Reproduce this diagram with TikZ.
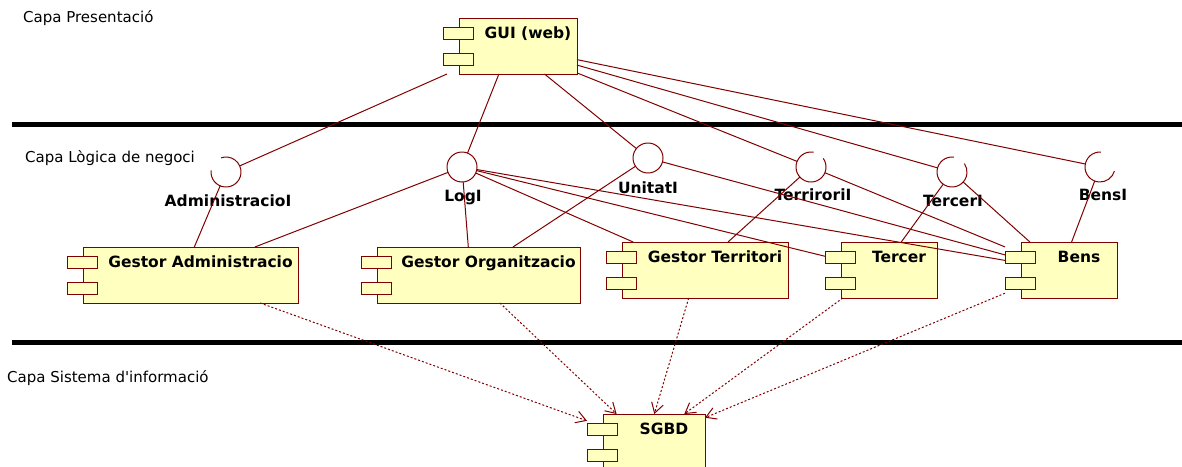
\documentclass[tikz,border=0pt]{standalone}
\usepackage{fontspec}
\setmainfont{DejaVu Sans}
\usepackage{xcolor}
\usetikzlibrary{positioning, arrows.meta}
\pgfdeclarelayer{background}
\pgfsetlayers{background,main}
\definecolor{wirered}{RGB}{128,0,0}
\definecolor{compfill}{RGB}{255,255,192}
\newcommand\plainquote{\XeTeXglyph\XeTeXcharglyph"27 }

\begin{document}
\begin{tikzpicture}[
    x=1pt, y=-1pt,
    comp/.style={
        rectangle,
        inner xsep=0pt,
        inner ysep=0pt,
        outer sep=0pt,
        minimum width=#1,
        minimum height=56pt,
        text height=20.5pt,
        text depth=35.5pt,
        anchor=north west,
        font=\fontsize{15.5}{18}\selectfont\bfseries
    },
    iface/.style={
        circle,
        minimum size=30pt,
        inner sep=0pt,
        outer sep=0pt
    },
    ifname/.style={
        anchor=base,
        inner sep=0pt,
        font=\fontsize{15.5}{18}\selectfont\bfseries
    },
    layername/.style={
        anchor=base west,
        inner sep=0pt,
        font=\fontsize{15}{18}\selectfont
    },
    wire/.style={
        draw=wirered,
        line width=1pt
    },
    dep/.style={
        wire,
        dash pattern=on 2pt off 2pt,
        -{Straight Barb[length=10pt, width=12pt]}
    },
    tabbox/.style={
        draw=wirered,
        fill=compfill,
        line width=1pt
    },
    separator/.style={
        line width=5pt
    }
]

\useasboundingbox (0,0) rectangle (1182,466);
\clip (0,0) rectangle (1182,466);

\node[layername] (pres) at (23,22) {Capa Presentació};
\node[layername] (logic) at (25,162) {Capa Lògica de negoci};
\node[layername] (info) at (7,382) {Capa Sistema d\plainquote informació};

\draw[separator] (12,124.5) -- (1182,124.5);
\draw[separator] (12,342.5) -- (1182,342.5);

\node[comp=134pt] (gui) at (443,18) {\hspace*{36pt}GUI (web)};
\node[comp=231pt] (admin) at (67,247) {\hspace*{36pt}Gestor Administracio};
\node[comp=219pt] (org) at (361,247) {\hspace*{36pt}Gestor Organitzacio};
\node[comp=182pt] (terr) at (606,242) {\hspace*{36pt}Gestor Territori};
\node[comp=112pt] (tercer) at (825,242) {\hspace*{36pt}Tercer};
\node[comp=112pt] (bens) at (1005,242) {\hspace*{36pt}Bens};
\node[comp=118pt] (sgbd) at (587,414) {\hspace*{36pt}SGBD};

\begin{pgfonlayer}{background}
\foreach \c in {gui, admin, org, terr, tercer, bens, sgbd} {
    \draw[tabbox] ([xshift=16pt]\c.north west) rectangle (\c.south east);
    \draw[tabbox] ([yshift=-9pt]\c.north west) rectangle ++(30pt,-12pt);
    \draw[tabbox] ([yshift=-35pt]\c.north west) rectangle ++(30pt,-12pt);
}
\end{pgfonlayer}

\node[iface] (admI) at (226,172) {};
\node[iface] (logI) at (462,167) {};
\node[iface] (unitI) at (648,158) {};
\node[iface] (terrI) at (811,167) {};
\node[iface] (tercI) at (952,172) {};
\node[iface] (bensI) at (1100,167) {};

\draw[wire] (admI.174) arc[start angle=174, end angle=469, radius=15pt];
\draw[wire] (logI) circle[radius=15pt];
\draw[wire] (unitI) circle[radius=15pt];
\draw[wire] (terrI.80) arc[start angle=80, end angle=395, radius=15pt];
\draw[wire] (tercI.83) arc[start angle=83, end angle=394, radius=15pt];
\draw[wire] (bensI.87) arc[start angle=87, end angle=344, radius=15pt];

\node[ifname] (admIname) at ([xshift=2pt, yshift=-34.5pt]admI.center) {AdministracioI};
\node[ifname] (logIname) at ([xshift=1pt, yshift=-34.5pt]logI.center) {LogI};
\node[ifname] (unitIname) at ([yshift=-35.5pt]unitI.center) {UnitatI};
\node[ifname] (terrIname) at ([xshift=2pt, yshift=-33.5pt]terrI.center) {TerriroriI};
\node[ifname] (tercIname) at ([xshift=1pt, yshift=-34.5pt]tercI.center) {TercerI};
\node[ifname] (bensIname) at ([xshift=3pt, yshift=-33.5pt]bensI.center) {BensI};

\foreach \i in {admI, logI, unitI, terrI, tercI, bensI}
    \draw[wire] (gui) -- (\i);

\draw[wire] (admI) -- (admin);
\draw[wire] (logI) -- (admin);
\draw[wire] (logI) -- (org);
\draw[wire] (unitI) -- (org);
\draw[wire] (logI) -- (terr);
\draw[wire] (logI) -- (tercer);
\draw[wire] (logI) -- (bens);
\draw[wire] (unitI) -- (bens);
\draw[wire] (terrI) -- (terr);
\draw[wire] (terrI) -- (bens);
\draw[wire] (tercI) -- (tercer);
\draw[wire] (tercI) -- (bens);
\draw[wire] (bensI) -- (bens);

\foreach \c in {admin, org, terr, tercer, bens}
    \draw[dep] (\c) -- (sgbd);

\end{tikzpicture}
\end{document}
